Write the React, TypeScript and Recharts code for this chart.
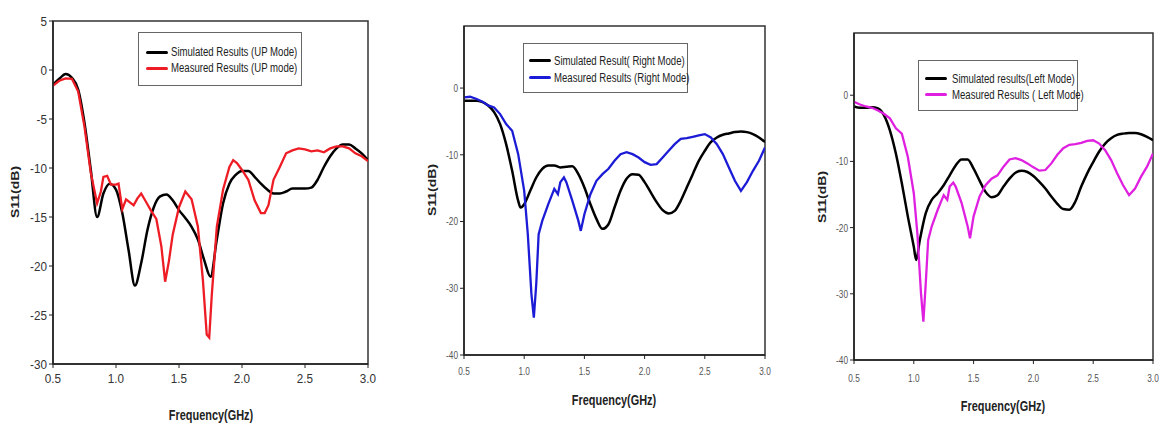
import React from 'react';
import { LineChart, Line, XAxis, YAxis, Legend, ReferenceArea } from 'recharts';

const freqTicks = [0.5, 1.0, 1.5, 2.0, 2.5, 3.0];
const upTicks = [-30, -25, -20, -15, -10, -5, 0, 5];
const sideTicks = [-40, -30, -20, -10, 0];

const upSimulated: [number, number][] = [
  [0.5, -1.5], [0.55, -0.9], [0.6, -0.4], [0.65, -0.8], [0.7, -2.0], [0.75, -5.4], [0.8, -10.2],
  [0.85, -15.0], [0.9, -12.6], [0.95, -11.6], [1.0, -12.2], [1.05, -14.6], [1.1, -18.4], [1.15, -22.0],
  [1.2, -19.7], [1.25, -16.3], [1.3, -14.0], [1.35, -12.9], [1.4, -12.7], [1.45, -13.3], [1.5, -14.3],
  [1.55, -15.1], [1.6, -16.0], [1.65, -17.3], [1.7, -19.4], [1.75, -21.1], [1.8, -17.3], [1.85, -13.6],
  [1.9, -11.6], [1.95, -10.7], [2.0, -10.3], [2.05, -10.3], [2.1, -10.9], [2.15, -11.6], [2.2, -12.2],
  [2.25, -12.6], [2.3, -12.6], [2.35, -12.4], [2.4, -12.1], [2.45, -12.1], [2.5, -12.1], [2.55, -12.0],
  [2.6, -11.2], [2.65, -9.9], [2.7, -8.8], [2.75, -8.0], [2.8, -7.6], [2.85, -7.6], [2.9, -8.0],
  [2.95, -8.5], [3.0, -9.2],
];

const upMeasured: [number, number][] = [
  [0.5, -1.6], [0.55, -1.1], [0.6, -0.85], [0.65, -0.9], [0.7, -2.2], [0.75, -5.8], [0.8, -10.5],
  [0.85, -13.6], [0.88, -12.4], [0.9, -10.9], [0.93, -10.8], [0.96, -11.7], [1.0, -11.7], [1.02, -11.6],
  [1.05, -14.2], [1.08, -13.2], [1.11, -13.5], [1.14, -13.8], [1.17, -13.1], [1.2, -12.6], [1.24, -13.5],
  [1.28, -14.4], [1.32, -15.2], [1.36, -18.0], [1.39, -21.6], [1.42, -19.5], [1.45, -16.8], [1.5, -14.0],
  [1.55, -12.4], [1.6, -13.2], [1.65, -16.0], [1.69, -21.5], [1.72, -27.0], [1.74, -27.3], [1.76, -23.0],
  [1.8, -16.0], [1.85, -12.2], [1.9, -9.9], [1.93, -9.2], [1.96, -9.5], [2.0, -10.2], [2.05, -11.2],
  [2.1, -13.3], [2.15, -14.6], [2.18, -14.6], [2.21, -13.8], [2.25, -11.2], [2.3, -9.9], [2.35, -8.5],
  [2.4, -8.2], [2.45, -8.0], [2.5, -8.1], [2.55, -8.3], [2.6, -8.2], [2.65, -8.4], [2.7, -8.0],
  [2.75, -7.8], [2.8, -7.8], [2.85, -8.0], [2.9, -8.5], [2.95, -8.8], [3.0, -9.3],
];

const rightSimulated: [number, number][] = [
  [0.5, -1.9], [0.6, -1.9], [0.7, -2.6], [0.75, -3.6], [0.8, -5.4], [0.85, -8.4], [0.9, -12.4],
  [0.95, -16.9], [0.97, -17.9], [1.0, -17.4], [1.05, -15.4], [1.1, -13.4], [1.15, -12.1], [1.2, -11.6],
  [1.25, -11.6], [1.3, -11.9], [1.35, -11.8], [1.4, -11.7], [1.45, -12.9], [1.5, -14.9], [1.55, -17.4],
  [1.6, -19.6], [1.65, -21.1], [1.7, -20.4], [1.75, -17.9], [1.8, -15.4], [1.85, -13.6], [1.9, -12.9],
  [1.95, -13.0], [2.0, -14.1], [2.05, -15.6], [2.1, -17.1], [2.15, -18.3], [2.2, -18.8], [2.25, -18.4],
  [2.3, -16.9], [2.35, -14.9], [2.4, -12.9], [2.45, -10.9], [2.5, -9.4], [2.55, -8.1], [2.6, -7.4],
  [2.65, -7.0], [2.7, -6.8], [2.75, -6.6], [2.8, -6.5], [2.85, -6.6], [2.9, -6.9], [2.95, -7.4], [3.0, -8.1],
];

const rightMeasured: [number, number][] = [
  [0.5, -1.4], [0.55, -1.3], [0.6, -1.6], [0.65, -2.0], [0.7, -2.6], [0.75, -2.9], [0.8, -3.9],
  [0.85, -5.4], [0.9, -6.4], [0.95, -9.9], [1.0, -15.4], [1.03, -21.9], [1.06, -30.9], [1.08, -34.4],
  [1.1, -29.4], [1.12, -21.9], [1.15, -19.9], [1.2, -17.4], [1.25, -15.1], [1.28, -15.9], [1.3, -14.1],
  [1.33, -13.4], [1.35, -14.1], [1.4, -16.9], [1.45, -19.9], [1.47, -21.4], [1.5, -18.9], [1.55, -15.9],
  [1.6, -13.9], [1.65, -12.9], [1.7, -12.1], [1.75, -10.9], [1.8, -9.9], [1.85, -9.6], [1.9, -9.9],
  [1.95, -10.4], [2.0, -11.1], [2.05, -11.5], [2.1, -11.4], [2.15, -10.4], [2.2, -9.4], [2.25, -8.4],
  [2.3, -7.6], [2.35, -7.5], [2.4, -7.3], [2.45, -7.1], [2.5, -6.9], [2.55, -7.4], [2.6, -8.4],
  [2.65, -9.9], [2.7, -11.9], [2.75, -13.9], [2.8, -15.4], [2.85, -14.1], [2.9, -12.4], [2.95, -10.9],
  [3.0, -8.9],
];

const leftSimulated: [number, number][] = [
  [0.5, -1.7], [0.55, -1.9], [0.6, -1.9], [0.65, -1.8], [0.7, -2.0], [0.75, -3.0], [0.8, -5.3],
  [0.85, -8.8], [0.9, -13.3], [0.95, -18.3], [1.0, -22.9], [1.02, -24.9], [1.05, -21.9], [1.1, -17.8],
  [1.15, -15.8], [1.2, -14.8], [1.25, -13.6], [1.3, -12.1], [1.35, -10.6], [1.4, -9.7], [1.45, -9.7],
  [1.5, -11.1], [1.55, -12.9], [1.6, -14.6], [1.65, -15.4], [1.7, -15.1], [1.75, -13.8], [1.8, -12.6],
  [1.85, -11.7], [1.9, -11.4], [1.95, -11.6], [2.0, -12.2], [2.05, -13.1], [2.1, -14.1], [2.15, -15.3],
  [2.2, -16.4], [2.25, -17.2], [2.3, -17.3], [2.35, -16.1], [2.4, -13.8], [2.45, -11.8], [2.5, -10.1],
  [2.55, -8.5], [2.6, -7.3], [2.65, -6.5], [2.7, -6.0], [2.75, -5.8], [2.8, -5.7], [2.85, -5.7],
  [2.9, -5.9], [2.95, -6.3], [3.0, -6.8],
];

const leftMeasured: [number, number][] = [
  [0.5, -1.0], [0.55, -1.4], [0.6, -1.7], [0.65, -1.9], [0.7, -2.3], [0.75, -2.8], [0.8, -3.5],
  [0.85, -5.0], [0.9, -5.8], [0.95, -9.3], [1.0, -14.8], [1.03, -20.9], [1.06, -29.9], [1.08, -34.2],
  [1.1, -28.4], [1.12, -21.9], [1.15, -19.8], [1.2, -17.3], [1.25, -15.1], [1.28, -15.8], [1.3, -13.8],
  [1.33, -13.2], [1.35, -13.8], [1.4, -16.3], [1.45, -19.8], [1.47, -21.6], [1.5, -18.3], [1.55, -15.3],
  [1.6, -13.6], [1.65, -12.6], [1.7, -12.1], [1.75, -10.8], [1.8, -9.7], [1.85, -9.5], [1.9, -9.8],
  [1.95, -10.3], [2.0, -10.9], [2.05, -11.4], [2.1, -11.3], [2.15, -10.3], [2.2, -9.0], [2.25, -8.0],
  [2.3, -7.5], [2.35, -7.4], [2.4, -7.2], [2.45, -6.9], [2.5, -6.8], [2.55, -7.3], [2.6, -8.3],
  [2.65, -9.8], [2.7, -11.8], [2.75, -13.6], [2.8, -15.1], [2.85, -14.1], [2.9, -12.3], [2.95, -10.8],
  [3.0, -8.8],
];

const toRows = (pts: [number, number][]) => pts.map(([f, v]) => ({ f, v }));

const FONT = '"Liberation Sans", Arial, sans-serif';

type LegendBox = { left: number; top: number; width: number; height: number; lineX: number; textX: number; rowGap: number; font: number };

type PanelProps = {
  left: number;
  width: number;
  margin: { top: number; right: number; bottom: number };
  yWidth: number;
  yDomain: [number, number];
  yTicks: number[];
  tickFont: number;
  tickScale: number;
  xTickMargin: number;
  tickColor: string;
  simulated: [number, number][];
  measured: [number, number][];
  simName: string;
  measName: string;
  measColor: string;
  legend: LegendBox;
};

function makeTick(scale: number, fontSize: number, color: string, axis: 'x' | 'y') {
  return (props: any) => {
    const { x, y, payload, textAnchor } = props;
    const label = axis === 'x' ? Number(payload.value).toFixed(1) : String(payload.value);
    return (
      <text
        transform={`translate(${x},${y}) scale(${scale},1)`}
        x={0}
        y={0}
        dy={axis === 'x' ? '0.71em' : '0.355em'}
        textAnchor={textAnchor}
        fontSize={fontSize}
        fontFamily={FONT}
        fill={color}
      >
        {label}
      </text>
    );
  };
}

function makeLegend(lg: LegendBox, order: string[]) {
  return (props: any) => {
    const payload = [...(props.payload || [])].sort(
      (a: any, b: any) => order.indexOf(a.value) - order.indexOf(b.value)
    );
    return (
      <div
        style={{
          width: lg.width,
          height: lg.height,
          boxSizing: 'border-box',
          border: '1px solid #666',
          background: '#fff',
          position: 'relative',
          fontFamily: FONT,
          fontSize: lg.font,
          color: '#222',
        }}
      >
        {payload.map((p: any, i: number) => (
          <div
            key={i}
            style={{
              position: 'absolute',
              left: 0,
              top: (lg.height - lg.rowGap) / 2 - 7 + i * lg.rowGap,
              height: 14,
              width: '100%',
            }}
          >
            <div
              style={{
                position: 'absolute',
                left: lg.lineX,
                top: 5.5,
                width: 22,
                height: 3,
                background: p.color,
                borderRadius: 1.5,
              }}
            />
            <div
              style={{
                position: 'absolute',
                left: lg.textX,
                top: 0,
                lineHeight: '14px',
                whiteSpace: 'nowrap',
                transform: 'scaleX(0.8)',
                transformOrigin: '0 50%',
              }}
            >
              {p.value}
            </div>
          </div>
        ))}
      </div>
    );
  };
}

function Panel(p: PanelProps) {
  const height = 425;
  return (
    <div style={{ position: 'absolute', left: p.left, top: 0 }}>
      <LineChart
        width={p.width}
        height={height}
        margin={{ top: p.margin.top, right: p.margin.right, bottom: p.margin.bottom, left: 0 }}
      >
        <XAxis
          dataKey="f"
          type="number"
          domain={[0.5, 3.0]}
          ticks={freqTicks}
          allowDataOverflow
          height={30}
          tickSize={4}
          tickMargin={p.xTickMargin}
          tick={makeTick(p.tickScale, p.tickFont, p.tickColor, 'x')}
          axisLine={{ stroke: '#222', strokeWidth: 1.5 }}
          tickLine={{ stroke: '#222' }}
        />
        <YAxis
          type="number"
          domain={p.yDomain}
          ticks={p.yTicks}
          allowDataOverflow
          width={p.yWidth}
          tickSize={4}
          tickMargin={2}
          tick={makeTick(p.tickScale, p.tickFont, p.tickColor, 'y')}
          axisLine={{ stroke: '#222', strokeWidth: 1.5 }}
          tickLine={{ stroke: '#222' }}
        />
        <ReferenceArea
          x1={0.5}
          x2={3.0}
          y1={p.yDomain[0]}
          y2={p.yDomain[1]}
          fill="none"
          fillOpacity={0}
          stroke="#333"
          strokeWidth={1.5}
          ifOverflow="extendDomain"
        />
        <Legend
          layout="vertical"
          align="center"
          verticalAlign="middle"
          content={makeLegend(p.legend, [p.simName, p.measName])}
          wrapperStyle={{ left: p.legend.left, top: p.legend.top, width: p.legend.width, height: p.legend.height }}
        />
        <Line
          data={toRows(p.simulated)}
          dataKey="v"
          name={p.simName}
          type="monotone"
          stroke="#000"
          strokeWidth={2.5}
          dot={false}
          isAnimationActive={false}
        />
        <Line
          data={toRows(p.measured)}
          dataKey="v"
          name={p.measName}
          type="linear"
          stroke={p.measColor}
          strokeWidth={2.3}
          dot={false}
          isAnimationActive={false}
        />
      </LineChart>
    </div>
  );
}

const titleStyle: React.CSSProperties = {
  position: 'absolute',
  fontFamily: FONT,
  fontWeight: 'bold',
  fontSize: 14,
  color: '#222',
  whiteSpace: 'nowrap',
};

function XTitle({ cx, cy }: { cx: number; cy: number }) {
  return (
    <div style={{ ...titleStyle, left: cx, top: cy, transform: 'translate(-50%, -50%) scaleX(0.78)' }}>
      Frequency(GHz)
    </div>
  );
}

function YTitle({ cx, cy }: { cx: number; cy: number }) {
  return (
    <div style={{ ...titleStyle, left: cx, top: cy, transform: 'translate(-50%, -50%) rotate(-90deg) scaleY(0.8)' }}>
      S11(dB)
    </div>
  );
}

export default function App() {
  return (
    <div style={{ position: 'absolute', left: 0, top: 0, width: 1161, height: 425, background: '#fff', overflow: 'hidden' }}>
      <Panel
        left={0}
        width={390}
        margin={{ top: 21, right: 22, bottom: 31 }}
        yWidth={53}
        yDomain={[-30, 5]}
        yTicks={upTicks}
        tickFont={13}
        tickScale={0.9}
        xTickMargin={6}
        tickColor="#333"
        simulated={upSimulated}
        measured={upMeasured}
        simName="Simulated  Results (UP Mode)"
        measName="Measured  Results (UP mode)"
        measColor="#ee1c24"
        legend={{ left: 138, top: 32, width: 164, height: 54, lineX: 7, textX: 32, rowGap: 16, font: 12 }}
      />
      <Panel
        left={390}
        width={390}
        margin={{ top: 26, right: 15, bottom: 40 }}
        yWidth={74}
        yDomain={[-40, 9.3]}
        yTicks={sideTicks}
        tickFont={11}
        tickScale={0.75}
        xTickMargin={8}
        tickColor="#555"
        simulated={rightSimulated}
        measured={rightMeasured}
        simName="Simulated Result( Right Mode)"
        measName="Measured Results  (Right Mode)"
        measColor="#1c1cd6"
        legend={{ left: 133, top: 43, width: 165, height: 50, lineX: 5, textX: 30, rowGap: 17, font: 12 }}
      />
      <Panel
        left={780}
        width={381}
        margin={{ top: 33, right: 8, bottom: 35 }}
        yWidth={74}
        yDomain={[-40, 9.4]}
        yTicks={sideTicks}
        tickFont={11}
        tickScale={0.75}
        xTickMargin={10}
        tickColor="#555"
        simulated={leftSimulated}
        measured={leftMeasured}
        simName="Simulated results(Left Mode)"
        measName="Measured Results  ( Left Mode)"
        measColor="#e020e0"
        legend={{ left: 138, top: 60, width: 160, height: 51, lineX: 6, textX: 33, rowGap: 16, font: 12 }}
      />
      <YTitle cx={15} cy={192} />
      <XTitle cx={211} cy={415} />
      <YTitle cx={432} cy={190} />
      <XTitle cx={614} cy={400} />
      <YTitle cx={822} cy={197} />
      <XTitle cx={1003} cy={406} />
    </div>
  );
}
